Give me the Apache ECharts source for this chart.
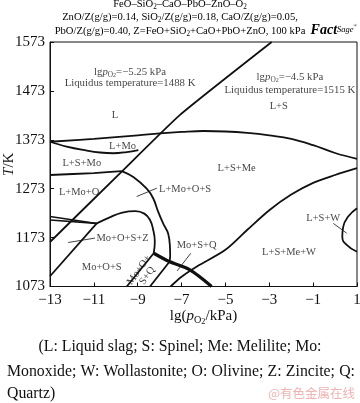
<!DOCTYPE html>
<html><head><meta charset="utf-8">
<script src="https://cdn.jsdelivr.net/npm/echarts@6/dist/echarts.min.js"></script>
<style>html,body{margin:0;padding:0;background:#fff}#c{width:360px;height:403px}</style>
</head><body><div id="c"></div>
<script>
// ---- data ----
const xTicks = [-13, -11, -9, -7, -5, -3, -1, 1];
const yTicks = [1073, 1173, 1273, 1373, 1473, 1573];

const liquidusLine = [[-2.89,1573],[-7.07,1424],[-9.73,1308],[-13,1164]];
const upperLBoundary = [[-13,1369],[-11,1375],[-9,1382],[-8,1386],[-7,1389],[-6,1391],[-5,1390],[-4,1387],[-3,1382],[-2,1375],[-1,1362],[0,1346],[1,1334]];
const lMoLower = [[-13,1369],[-12.24,1359],[-11.33,1351],[-10.72,1347],[-10.11,1345.5],[-9.5,1348],[-8.97,1352]];
const lsMoLowerFlat = [[-13,1301],[-11,1305],[-9.73,1309]];
const lMoOSRight = [[-9.73,1309],[-9.2,1297],[-8.59,1273],[-8.29,1253],[-8.06,1225],[-7.83,1201],[-7.61,1181],[-7.53,1154],[-7.52,1135],[-7.56,1123]];
const zTopUpper = [[-13,1216],[-10.87,1202]];
const zTopLower = [[-13,1209],[-10.87,1202]];
const zCurve = [[-10.87,1202],[-10.3,1214],[-9.7,1224],[-9.1,1227],[-8.7,1222],[-8.45,1210],[-8.3,1190],[-8.22,1165],[-8.27,1141]];
const olivineLine = [[-13,1094],[-10.87,1202]];
const qLeft = [[-9.5,1073],[-8.27,1141]];
const qRight = [[-8.44,1073],[-7.56,1123]];
const qThick = [[-8.27,1141],[-7.56,1124],[-6.62,1107],[-5.63,1073]];
const wBoundary = [[-7.5,1073],[-7.0,1093],[-6.3,1114],[-5.0,1148],[-4.0,1189],[-3.0,1229],[-2.0,1261],[-1.0,1285],[0,1301],[1,1315]];
const wLoop = [[1,1233],[0.6,1216],[0.37,1195],[0.33,1175],[0.53,1158],[1,1144]];

const regionLabels = [
  ['L', -10.04, 1424],
  ['L+S', -2.57, 1441],
  ['L+Mo', -9.69, 1360],
  ['L+S+Mo', -11.55, 1326],
  ['L+S+Me', -4.49, 1315],
  ['L+Mo+O', -11.67, 1266],
  ['L+Mo+O+S', -6.84, 1272],
  ['L+S+W', -0.54, 1213],
  ['Mo+O+S+Z', -9.69, 1172],
  ['Mo+S+Q', -6.31, 1158],
  ['L+S+Me+W', -2.1, 1143],
  ['Mo+O+S', -10.64, 1112]
];
const rotatedLabel = ['Mo+O+\nS+Q', -8.75, 1101];
const noteLabels = [
  ['{n|lg}{i|p}{s|O}{ss|2}{n|=−5.25 kPa}', -9.35, 1512],
  ['{n|Liquidus temperature=1488 K}', -9.35, 1488],
  ['{n|lg}{i|p}{s|O}{ss|2}{n|=−4.5 kPa}', -2.06, 1502],
  ['{n|Liquidus temperature=1515 K}', -2.06, 1475]
];
const leaders = [
  [[-8.13,1274],[-9.05,1257]],
  [[-10.95,1172],[-12.17,1163]],
  [[-6.58,1141],[-7.2,1105]],
  [[-0.08,1202],[0.53,1182]]
];

const titleLines = [
  '{n|FeO–SiO}{s|2}{n|–CaO–PbO–ZnO–O}{s|2}',
  '{n|ZnO/Z(g/g)=0.14, SiO}{s|2}{n|/Z(g/g)=0.18, CaO/Z(g/g)=0.05,}',
  '{n|PbO/Z(g/g)=0.40, Z=FeO+SiO}{s|2}{n|+CaO+PbO+ZnO, 100 kPa}'
];
const captionLines = [
  '(L: Liquid slag; S: Spinel; Me: Melilite; Mo:',
  'Monoxide; W: Wollastonite; O: Olivine; Z: Zincite; Q:',
  'Quartz)'
];

// ---- chart ----
const chart = echarts.init(document.getElementById('c'), null, {renderer: 'canvas'});
const serif = '"Liberation Serif","Times New Roman",Times,serif';
function rich(fs) {
  return {
    n: {fontFamily: serif, fontSize: fs, color: '#111', lineHeight: fs * 1.2},
    i: {fontFamily: serif, fontSize: fs, fontStyle: 'italic', color: '#111', lineHeight: fs * 1.2},
    s: {fontFamily: serif, fontSize: fs * 0.68, color: '#111', lineHeight: fs * 0.5, verticalAlign: 'bottom'},
    ss: {fontFamily: serif, fontSize: fs * 0.55, color: '#111', lineHeight: fs * 0.25, verticalAlign: 'bottom'}
  };
}
const fmtNum = v => (v < 0 ? '−' + Math.abs(v) : String(v));

function lineSeries(data, width, smooth) {
  return {
    type: 'line', data: data, showSymbol: false, symbol: 'none', smooth: smooth || false,
    lineStyle: {color: '#111', width: width}, silent: true, z: 3, animation: false
  };
}

const series = [
  lineSeries(liquidusLine, 1.8, 0.15),
  lineSeries(upperLBoundary, 1.8, 0.4),
  lineSeries(lMoLower, 1.8, 0.4),
  lineSeries(lsMoLowerFlat, 1.8, 0.2),
  lineSeries(lMoOSRight, 1.8, 0.4),
  lineSeries(zTopUpper, 1.6, false),
  lineSeries(zTopLower, 1.6, false),
  lineSeries(zCurve, 1.8, 0.45),
  lineSeries(olivineLine, 1.8, false),
  lineSeries(qLeft, 1.8, false),
  lineSeries(qRight, 1.8, false),
  lineSeries(qThick, 3.2, 0.3),
  lineSeries(wBoundary, 1.8, 0.3),
  lineSeries(wLoop, 1.8, 0.5)
];
leaders.forEach(l => series.push(lineSeries(l, 0.8, false)));

series.push({
  type: 'scatter', symbolSize: 1, itemStyle: {color: 'rgba(0,0,0,0)'}, silent: true, z: 5, animation: false,
  data: regionLabels.map(r => ({value: [r[1], r[2]], name: r[0]})),
  label: {show: true, position: 'inside', formatter: p => p.name, fontFamily: serif, fontSize: 10.5, color: '#111'}
});
series.push({
  type: 'scatter', symbolSize: 1, itemStyle: {color: 'rgba(0,0,0,0)'}, silent: true, z: 5, animation: false,
  data: [{value: [rotatedLabel[1], rotatedLabel[2]], name: rotatedLabel[0]}],
  label: {show: true, position: 'inside', rotate: 55, formatter: p => p.name, fontFamily: serif, fontSize: 10.5, lineHeight: 10, color: '#111'}
});
series.push({
  type: 'scatter', symbolSize: 1, itemStyle: {color: 'rgba(0,0,0,0)'}, silent: true, z: 5, animation: false,
  data: noteLabels.map(r => ({value: [r[1], r[2]], name: r[0]})),
  label: {show: true, position: 'inside', formatter: p => p.name, rich: rich(10.8)}
});

// graphic: titles, caption, logo, watermark
const graphic = [];
const titleY = [4.5, 17, 31];
titleLines.forEach((t, k) => graphic.push({
  type: 'text', x: 180, y: titleY[k],
  style: {text: t, rich: rich(10.6), align: 'center', verticalAlign: 'middle'}
}));
graphic.push({
  type: 'text', x: 334, y: 30,
  style: {
    text: '{a|Fact}{b|Sage}{c|®}', align: 'center', verticalAlign: 'middle',
    rich: {
      a: {fontFamily: serif, fontSize: 14, fontWeight: 'bold', fontStyle: 'italic', color: '#1d3f7c'},
      b: {fontFamily: serif, fontSize: 8.5, fontStyle: 'italic', color: '#1d3f7c'},
      c: {fontFamily: serif, fontSize: 5, color: '#1d3f7c', verticalAlign: 'top'}
    }
  }
});
const capFont = 15.8;
graphic.push({type: 'text', x: 180, y: 347, style: {text: captionLines[0], fontFamily: serif, fontSize: capFont, fill: '#111', align: 'center', verticalAlign: 'middle'}});
(function () {
  const cv = document.createElement('canvas').getContext('2d');
  cv.font = capFont + 'px "Liberation Serif"';
  const words = captionLines[1].split(' ');
  const widths = words.map(w => cv.measureText(w).width);
  const total = widths.reduce((a, b) => a + b, 0);
  const left = 7, right = 355;
  const gap = (right - left - total) / (words.length - 1);
  let x = left;
  words.forEach((w, k) => {
    graphic.push({type: 'text', x: x, y: 371.5, style: {text: w, fontFamily: serif, fontSize: capFont, fill: '#111', align: 'left', verticalAlign: 'middle'}});
    x += widths[k] + gap;
  });
})();
graphic.push({type: 'text', x: 7, y: 394, style: {text: captionLines[2], fontFamily: serif, fontSize: capFont, fill: '#111', align: 'left', verticalAlign: 'middle'}});
graphic.push({type: 'text', x: 355, y: 393, style: {text: '@有色金属在线', fontFamily: '"Noto Sans CJK SC"', fontSize: 12.5, fill: '#efb3b3', align: 'right', verticalAlign: 'middle'}});

const option = {
  animation: false,
  backgroundColor: '#fff',
  grid: {left: 50, right: 3, top: 42, bottom: 116.5, containLabel: false, outerBoundsMode: 'none',
         show: true, borderColor: '#111', borderWidth: 1, backgroundColor: 'transparent'},
  xAxis: {
    type: 'value', min: xTicks[0], max: xTicks[xTicks.length - 1], interval: xTicks[1] - xTicks[0],
    axisLine: {onZero: false, lineStyle: {color: '#111', width: 1}},
    axisTick: {inside: true, length: 4, lineStyle: {color: '#111'}},
    axisLabel: {formatter: fmtNum, fontFamily: serif, fontSize: 15, color: '#111', margin: 6, hideOverlap: false},
    splitLine: {show: false},
    name: '{n|lg(}{i|p}{s|O}{ss|2}{n|/kPa)}', nameLocation: 'middle', nameGap: 21, nameMoveOverlap: false,
    nameTextStyle: {rich: rich(15)}
  },
  yAxis: {
    type: 'value', min: yTicks[0], max: yTicks[yTicks.length - 1], interval: yTicks[1] - yTicks[0],
    axisLine: {onZero: false, lineStyle: {color: '#111', width: 1}},
    axisTick: {inside: true, length: 4, lineStyle: {color: '#111'}},
    axisLabel: {formatter: v => String(v), fontFamily: serif, fontSize: 15, color: '#111', margin: 5, hideOverlap: false},
    splitLine: {show: false},
    name: '{i|T}{n|/K}', nameLocation: 'middle', nameGap: 32, nameRotate: 90, nameMoveOverlap: false,
    nameTextStyle: {rich: rich(15)}
  },
  series: series,
  graphic: graphic
};
chart.setOption(option);
</script>
</body></html>
